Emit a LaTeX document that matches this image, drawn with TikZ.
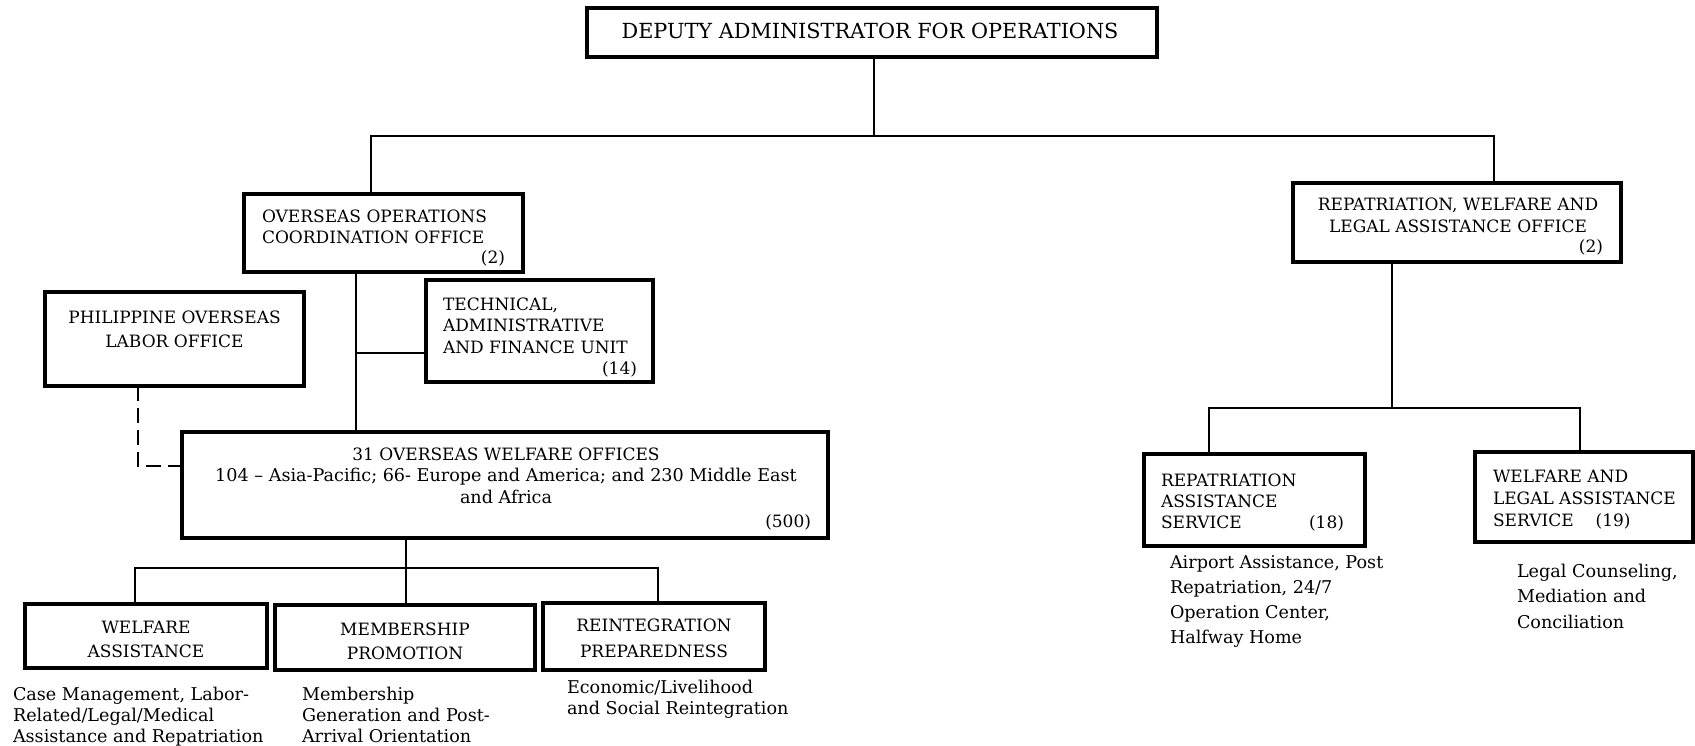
\documentclass[tikz,border=0pt]{standalone}
\usepackage{fontspec}
\setmainfont{DejaVu Serif}
\newcommand{\hstrut}{\rule{0pt}{14pt}}
\begin{document}
\begin{tikzpicture}[x=1pt,y=-1pt,
  box/.style={draw, line width=3.2pt, inner sep=0pt, outer sep=0pt},
  conn/.style={line width=1.2pt},
  dconn/.style={conn, dash pattern=on 15pt off 7pt},
  capsL/.style={inner sep=0pt, outer sep=0pt, anchor=north west, align=left, font=\fontsize{17}{#1}\selectfont},
  capsL/.default=21.5,
  capsC/.style={inner sep=0pt, outer sep=0pt, anchor=north, align=center, font=\fontsize{17}{#1}\selectfont},
  capsC/.default=24,
  desc/.style={inner sep=0pt, outer sep=0pt, anchor=north west, align=left, font=\fontsize{17.6}{#1}\selectfont},
  desc/.default=21,
  num/.style={inner sep=0pt, outer sep=0pt, anchor=base east, font=\fontsize{17}{20}\selectfont}
]
\useasboundingbox[fill=white] (0,0) rectangle (1695,745);

% boxes
\node[box, minimum width=570pt, minimum height=49pt] (dao) at (872,32.5) {};
\node[box, minimum width=279pt, minimum height=78pt] (ooco) at (383.5,233) {};
\node[box, minimum width=328pt, minimum height=79pt] (rwlao) at (1457,222.5) {};
\node[box, minimum width=227pt, minimum height=102pt] (tafu) at (539.5,331) {};
\node[box, minimum width=259pt, minimum height=94pt] (polo) at (174.5,339) {};
\node[box, minimum width=646pt, minimum height=106pt] (owo) at (505,485) {};
\node[box, minimum width=242pt, minimum height=64pt] (wa) at (146,636) {};
\node[box, minimum width=260pt, minimum height=65pt] (mp) at (405,637.5) {};
\node[box, minimum width=222pt, minimum height=67pt] (rp) at (654,636.5) {};
\node[box, minimum width=221pt, minimum height=92pt] (ras) at (1254.5,500) {};
\node[box, minimum width=218pt, minimum height=90pt] (wlas) at (1584,497) {};

% texts
\node[inner sep=0pt, anchor=base, font=\fontsize{20.8}{24}\selectfont] (tdao) at (870,38.5) {DEPUTY ADMINISTRATOR FOR OPERATIONS};
\node[capsL=21] (tooco) at (262,208) {\hstrut OVERSEAS OPERATIONS\\COORDINATION OFFICE};
\node[num] (nooco) at (505,263) {(2)};
\node[capsL=21.5] (ttafu) at (443,296) {\hstrut TECHNICAL,\\ADMINISTRATIVE\\AND FINANCE UNIT};
\node[num] (ntafu) at (637,374) {(14)};
\node[capsC=24] (tpolo) at (174.5,309) {\hstrut PHILIPPINE OVERSEAS\\LABOR OFFICE};
\node[capsC=21.5] (towo) at (506,446) {\hstrut 31 OVERSEAS WELFARE OFFICES\\{\fontsize{17.6}{21.5}\selectfont 104 \textendash{} Asia-Pacific; 66- Europe and America; and 230 Middle East}\\{\fontsize{17.6}{21.5}\selectfont and Africa}};
\node[num] (nowo) at (811,527) {(500)};
\node[capsC=22] (trwlao) at (1458,196) {\hstrut REPATRIATION, WELFARE AND\\LEGAL ASSISTANCE OFFICE};
\node[num] (nrwlao) at (1603,252) {(2)};
\node[capsC=24] (twa) at (146,619) {\hstrut WELFARE\\ASSISTANCE};
\node[capsC=24] (tmp) at (405,621) {\hstrut MEMBERSHIP\\PROMOTION};
\node[capsC=26] (trp) at (654,617) {\hstrut REINTEGRATION\\PREPAREDNESS};
\node[desc=21] (dwa) at (13,686) {\hstrut Case Management, Labor-\\Related/Legal/Medical\\Assistance and Repatriation};
\node[desc=21] (dmp) at (302,686) {\hstrut Membership\\Generation and Post-\\Arrival Orientation};
\node[desc=21] (drp) at (567,679) {\hstrut Economic/Livelihood\\and Social Reintegration};
\node[capsL=21] (tras) at (1161,472) {\hstrut REPATRIATION\\ASSISTANCE\\SERVICE};
\node[num] (nras) at (1344,528) {(18)};
\node[desc=25.3] (dras) at (1170,554) {\hstrut Airport Assistance, Post\\Repatriation, 24/7\\Operation Center,\\Halfway Home};
\node[capsL=22] (twlas) at (1493,468) {\hstrut WELFARE AND\\LEGAL ASSISTANCE\\SERVICE\hspace{22pt}(19)};
\node[desc=25.5] (dwlas) at (1517,563) {\hstrut Legal Counseling,\\Mediation and\\Conciliation};

% connectors
\coordinate (b1) at (874,136);
\coordinate (bl) at (371,136);
\coordinate (br) at (1494,136);
\draw[conn] (dao.south -| b1) -- (b1);
\draw[conn] (ooco.north -| bl) -- (bl) -- (br) -- (rwlao.north -| br);

\coordinate (xo) at (356,353);
\draw[conn] (ooco.south -| xo) -- (owo.north -| xo);
\draw[conn] (xo) -- (tafu.west |- xo);

\coordinate (dc) at (138,466);
\draw[dconn] (polo.south -| dc) -- (dc) -- (owo.west |- dc);

\coordinate (c3) at (406,568);
\coordinate (c3l) at (135,568);
\coordinate (c3r) at (658,568);
\draw[conn] (owo.south -| c3) -- (c3);
\draw[conn] (wa.north -| c3l) -- (c3l) -- (c3r) -- (rp.north -| c3r);
\draw[conn] (c3) -- (mp.north -| c3);

\coordinate (c2) at (1392,408);
\coordinate (c2l) at (1209,408);
\coordinate (c2r) at (1580,408);
\draw[conn] (rwlao.south -| c2) -- (c2);
\draw[conn] (ras.north -| c2l) -- (c2l) -- (c2r) -- (wlas.north -| c2r);
\end{tikzpicture}
\end{document}
